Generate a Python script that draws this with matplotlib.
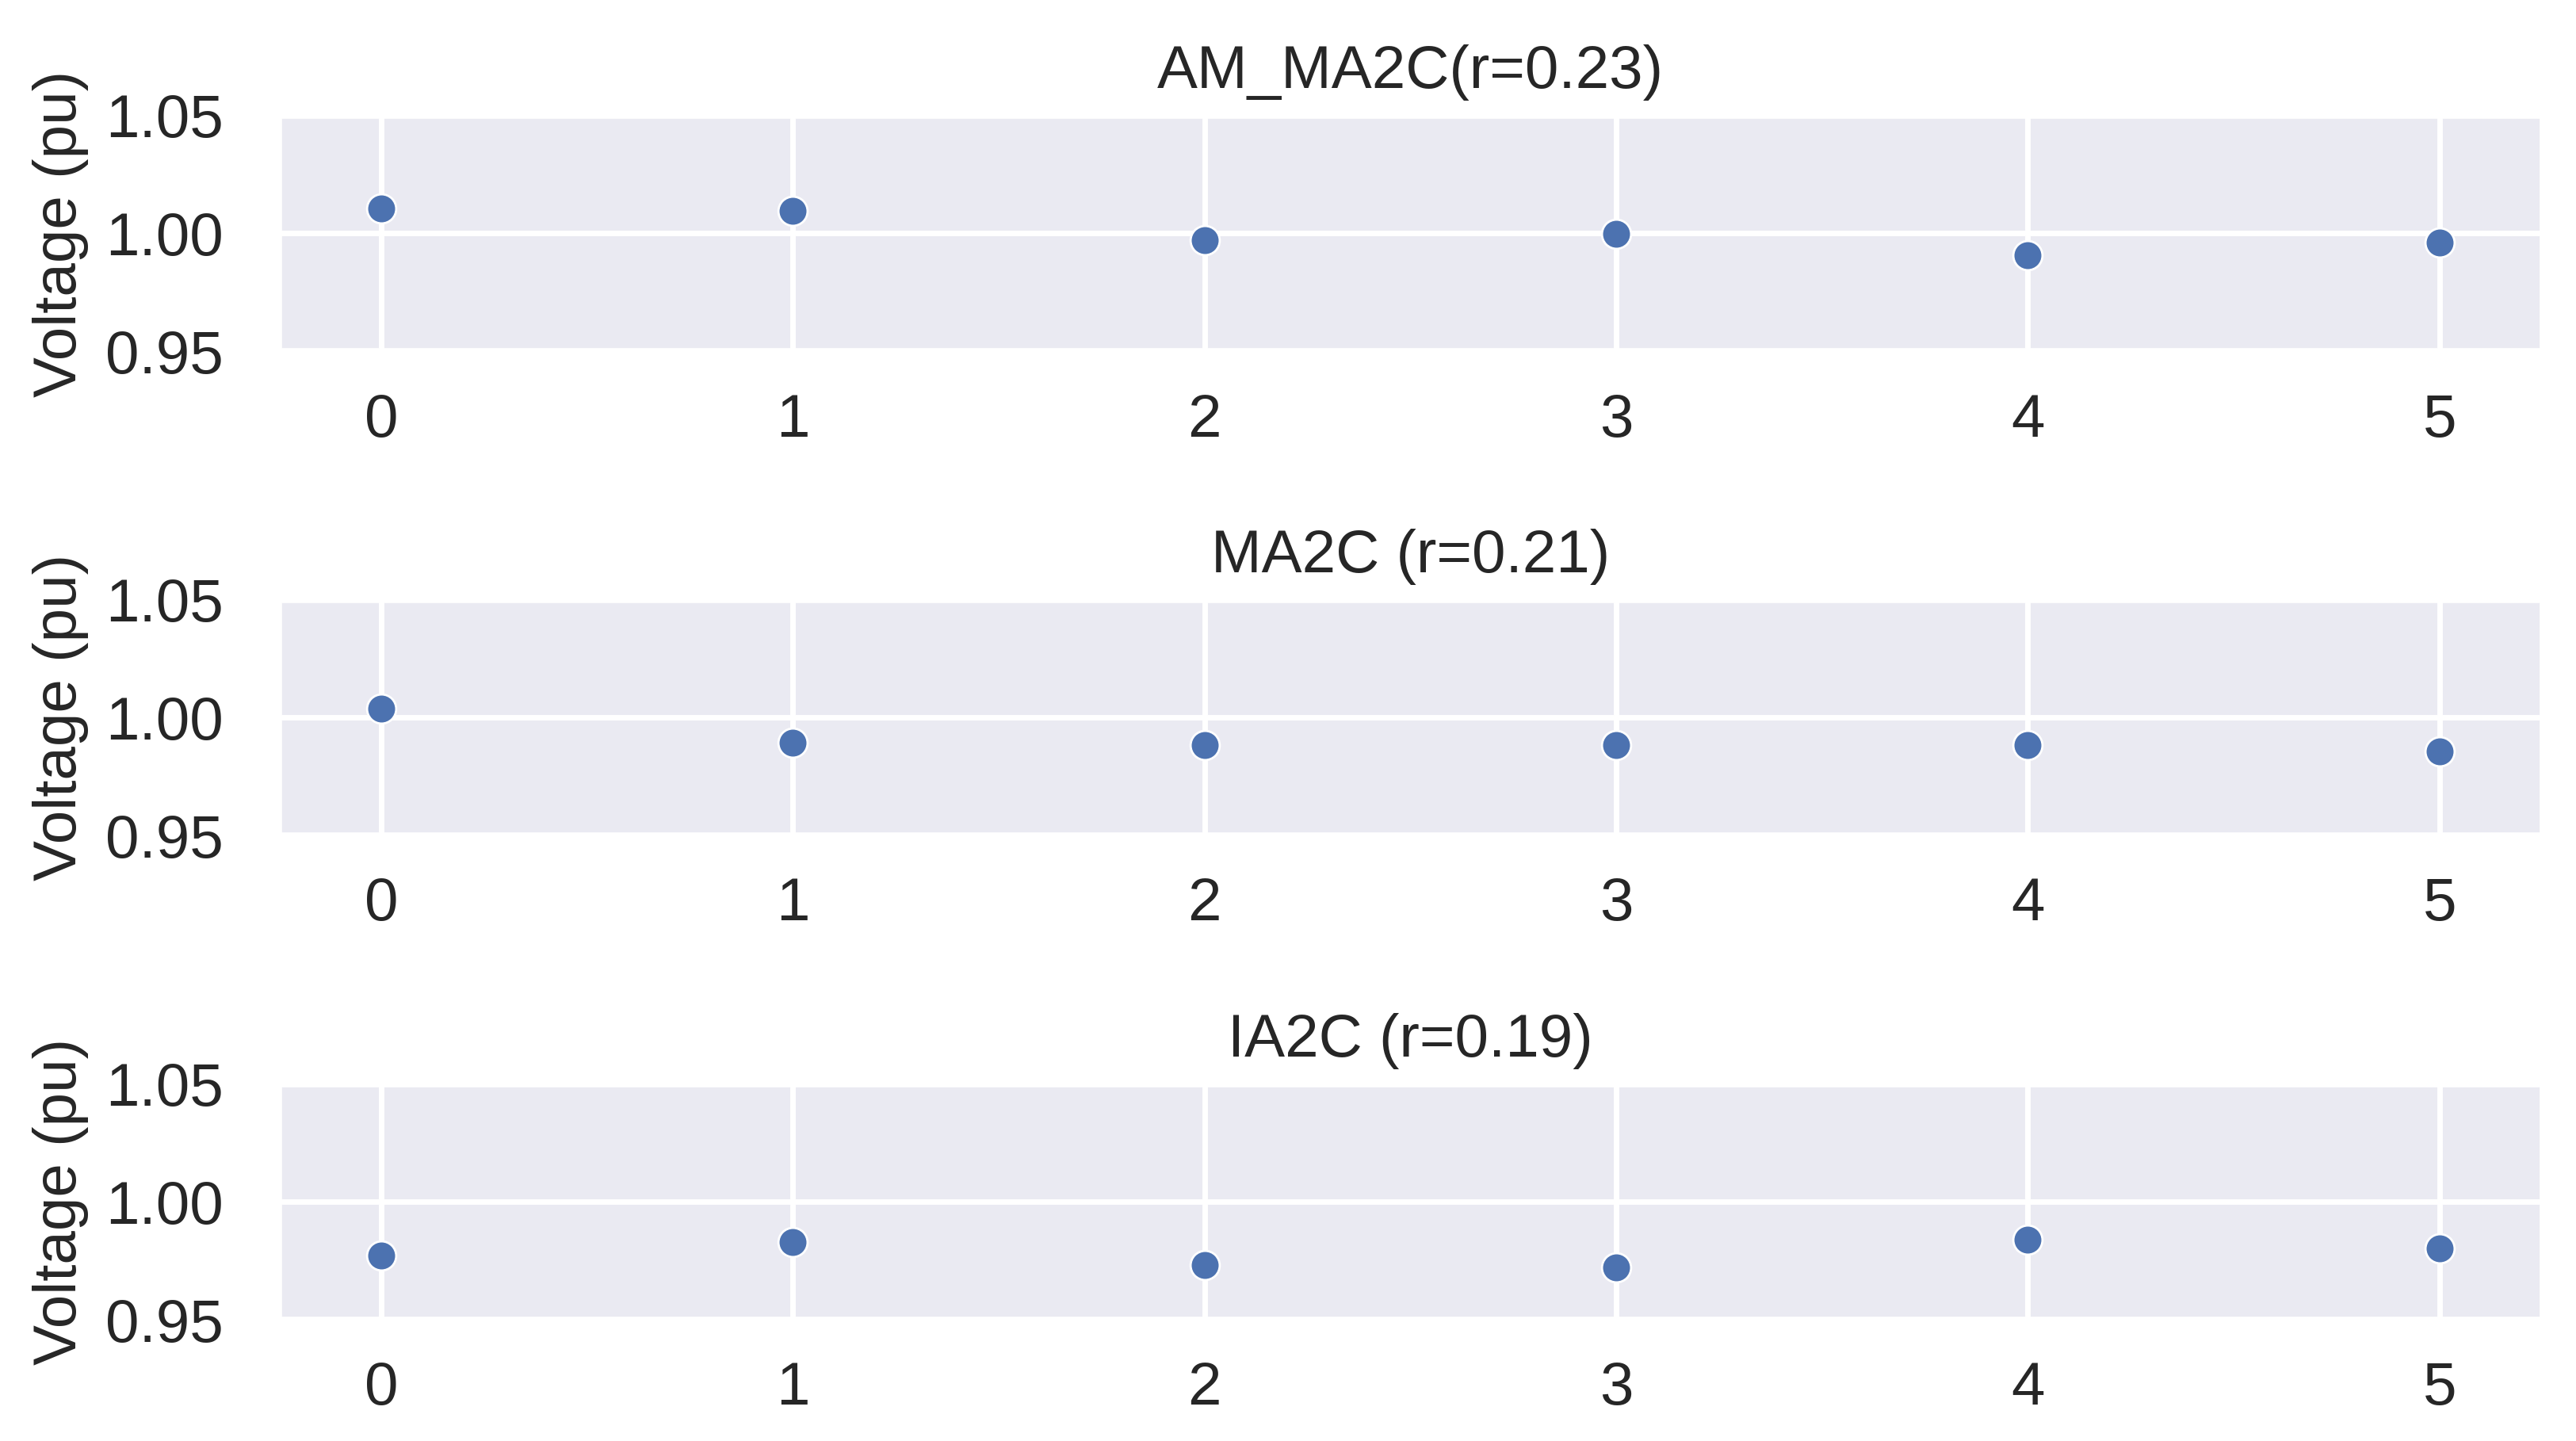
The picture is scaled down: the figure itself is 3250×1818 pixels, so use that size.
import matplotlib
matplotlib.use("Agg")
import matplotlib.pyplot as plt
import seaborn as sns

sns.set_theme(style="darkgrid")
plt.rcParams["font.family"] = ["Liberation Sans", "DejaVu Sans"]

steps = [0, 1, 2, 3, 4, 5]
am_ma2c = [1.0106, 1.0094, 0.9972, 0.9998, 0.9906, 0.9961]
ma2c = [1.0039, 0.9894, 0.9883, 0.9883, 0.9883, 0.9857]
ia2c = [0.9774, 0.9831, 0.9733, 0.9722, 0.9839, 0.9802]
titles = ["AM_MA2C(r=0.23)", "MA2C (r=0.21)", "IA2C (r=0.19)"]

fig, axes = plt.subplots(3, 1, figsize=(6.5, 3.636), dpi=500)
fig.subplots_adjust(left=0.108, right=0.987, top=0.920, bottom=0.084, hspace=1.05)

for ax, vals, title in zip(axes, [am_ma2c, ma2c, ia2c], titles):
    ax.scatter(steps, vals, s=28, color="#4c72b0", edgecolor="white", linewidth=0.4, zorder=3)
    ax.set_ylim(0.95, 1.05)
    ax.set_yticks([0.95, 1.00, 1.05])
    ax.set_xticks(steps)
    ax.set_title(title, fontsize=11, pad=5)
    ax.set_ylabel("Voltage (pu)", fontsize=11, labelpad=3)
    ax.tick_params(axis="y", labelsize=11, pad=4)
    ax.tick_params(axis="x", labelsize=11, pad=1.5)

fig.savefig("out.png", dpi=500)
